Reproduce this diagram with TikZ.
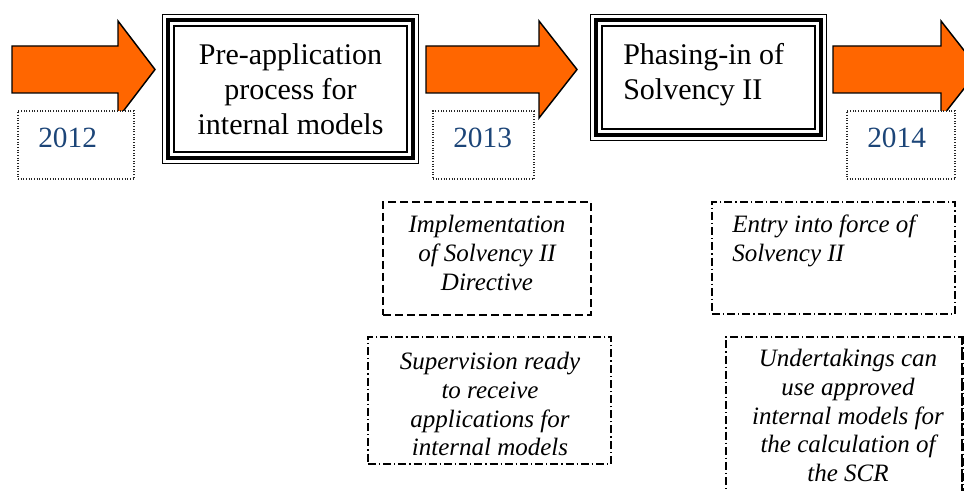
\documentclass[tikz,border=0pt]{standalone}
\usepackage{fontspec}
\setmainfont{Liberation Serif}
\usetikzlibrary{calc}

\definecolor{arroworange}{RGB}{255,102,0}
\definecolor{yearblue}{RGB}{28,69,120}

\tikzset{
  blockarrow/.style={fill=arroworange, draw=black, line width=1.1pt, line join=miter},
  framebox/.style={rectangle, inner sep=0pt, fill=white},
  yearbox/.style={rectangle, inner sep=0pt, fill=white, draw=black!85,
    line width=0.9pt, dash pattern=on 0.8pt off 1.2pt},
  dashbox/.style={rectangle, inner sep=0pt, draw=black, line width=0.9pt,
    dash pattern=on 6pt off 3pt},
  dotdashbox/.style={rectangle, inner sep=0pt, draw=black, line width=0.9pt,
    dash pattern=on 6pt off 2.2pt on 1pt off 2.2pt},
  maintext/.style={inner sep=0pt, anchor=base,
    font=\fontsize{22.5pt}{25.9pt}\selectfont},
  yeartext/.style={inner sep=0pt, anchor=base west, text=yearblue,
    font=\fontsize{22pt}{26pt}\selectfont},
  notetext/.style={inner sep=0pt, anchor=base,
    font=\fontsize{18.75pt}{21.4pt}\selectfont\itshape},
}

% orange block arrow: body start, head base, tip (x only; common height)
\newcommand\timearrow[3]{%
  \draw[blockarrow] (#1,46) -- (#2,46) -- (#2,21) -- (#3,69.5)
    -- (#2,118) -- (#2,93) -- (#1,93) -- cycle;}

% thin-thick-thin frame drawn just inside a node's border
\newcommand\tripleborder[1]{%
  \draw[line width=1.1pt] ([shift={(0.8,0.8)}]#1.north west)
    rectangle ([shift={(-0.8,-0.8)}]#1.south east);
  \draw[line width=3.4pt] ([shift={(6.3,6.3)}]#1.north west)
    rectangle ([shift={(-6.3,-6.3)}]#1.south east);
  \draw[line width=1.5pt] ([shift={(12.2,12.2)}]#1.north west)
    rectangle ([shift={(-12.2,-12.2)}]#1.south east);}

\begin{document}
\begin{tikzpicture}[x=0.75pt, y=-0.75pt]
  \useasboundingbox (0,0) rectangle (964,491);
  \clip (0,0) rectangle (964,491);

  % timeline arrows
  \timearrow{12}{118}{155}
  \timearrow{426}{539}{577}
  \timearrow{833}{941}{979}

  % year labels
  \node[yearbox, minimum width=87pt, minimum height=51pt] (y2012) at (76,145) {};
  \node[yeartext] (t2012) at (38,148) {2012};
  \node[yearbox, minimum width=75.75pt, minimum height=51pt] (y2013) at (483.5,145) {};
  \node[yeartext] (t2013) at (453,148) {2013};
  \node[yearbox, minimum width=81pt, minimum height=51pt] (y2014) at (901,145) {};
  \node[yeartext] (t2014) at (867,148) {2014};

  % milestone boxes
  \node[framebox, minimum width=192.75pt, minimum height=112.5pt] (pre) at (290.5,89) {};
  \tripleborder{pre}
  \node[maintext] (pretxt) at (290.5,65)
    {\begin{tabular}[t]{@{}c@{}}Pre-application\\process for\\internal models\end{tabular}};

  \node[framebox, minimum width=177.75pt, minimum height=95.25pt] (phase) at (708.5,77.5) {};
  \tripleborder{phase}
  \node[maintext, anchor=base west] (phasetxt) at (623,65)
    {\begin{tabular}[t]{@{}l@{}}Phasing-in of\\Solvency II\end{tabular}};

  % notes
  \node[dashbox, minimum width=156pt, minimum height=84.75pt] (impl) at (487,258.5) {};
  \node[notetext] (impltxt) at (487,233)
    {\begin{tabular}[t]{@{}c@{}}Implementation\\of Solvency II\\Directive\end{tabular}};

  \node[dotdashbox, minimum width=182.25pt, minimum height=95.25pt] (superv) at (489.5,400.5) {};
  \node[notetext] (supervtxt) at (490,370)
    {\begin{tabular}[t]{@{}c@{}}Supervision ready\\to receive\\applications for\\internal models\end{tabular}};

  \node[dotdashbox, minimum width=182.25pt, minimum height=84pt] (entry) at (833.5,258) {};
  \node[notetext, anchor=base west] (entrytxt) at (732,233)
    {\begin{tabular}[t]{@{}l@{}}Entry into force of\\Solvency II\end{tabular}};

  \node[dotdashbox, minimum width=177pt, minimum height=122.25pt] (under) at (844,418.5) {};
  \draw[line width=2pt, dash pattern=on 6pt off 2.2pt on 1pt off 2.2pt]
    (under.north east) -- (under.south east);
  \node[notetext] (undertxt) at (848,367)
    {\begin{tabular}[t]{@{}c@{}}Undertakings can\\use approved\\internal models for\\the calculation of\\the SCR\end{tabular}};
\end{tikzpicture}
\end{document}
